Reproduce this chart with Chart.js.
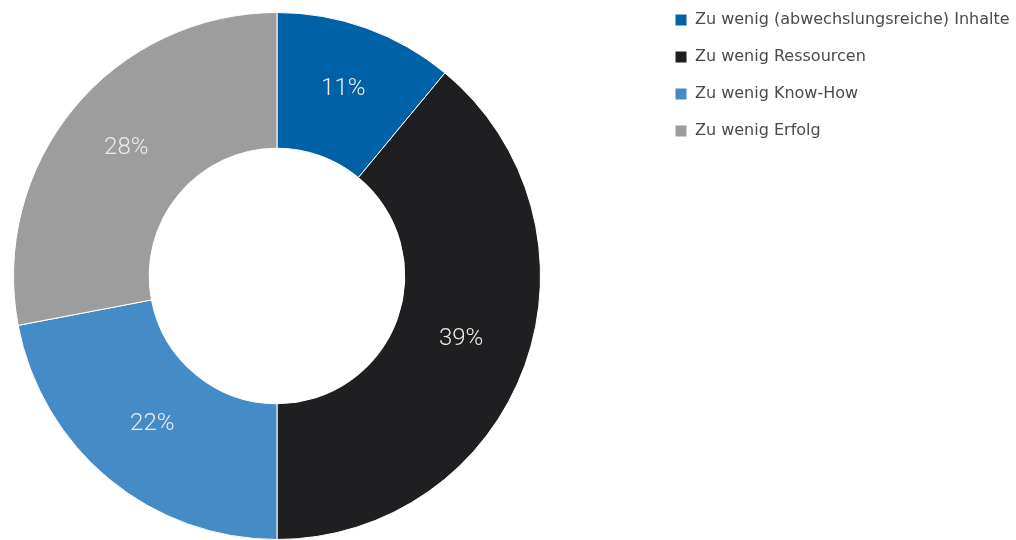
<!DOCTYPE html>
<html lang="de">
<head>
    <meta charset="UTF-8">
    <title>Gründe Doughnut</title>
    <script src="https://cdn.jsdelivr.net/npm/chart.js"></script>
    <style>
        html, body { margin: 0; padding: 0; background: #fff; }
        .chart-container { position: relative; width: 1016px; height: 540px; }
    </style>
</head>
<body>
<div class="chart-container">
    <canvas id="chartReasons"></canvas>
</div>

<script>
    const categories = [
        "Zu wenig (abwechslungsreiche) Inhalte",
        "Zu wenig Ressourcen",
        "Zu wenig Know-How",
        "Zu wenig Erfolg"
    ];
    const shares = [11, 39, 22, 28];
    const sliceColors = ["#0062a6", "#1f1f21", "#458bc5", "#9d9d9d"];

    // draws the percent text in the middle of each slice
    const sliceLabels = {
        id: "sliceLabels",
        afterDatasetsDraw(chart) {
            const ctx = chart.ctx;
            const meta = chart.getDatasetMeta(0);
            ctx.save();
            ctx.font = "300 24px Roboto, 'Liberation Sans', sans-serif";
            ctx.fillStyle = "#ebebeb";
            ctx.textAlign = "center";
            ctx.textBaseline = "middle";
            meta.data.forEach((arc, i) => {
                const p = arc.tooltipPosition();
                ctx.fillText(shares[i] + "%", p.x, p.y - 3);
            });
            ctx.restore();
        }
    };

    // wide legend box so the doughnut sits in the left 554px,
    // then slide the legend items over to the right
    const legendPlace = {
        id: "legendPlace",
        beforeLayout(chart) {
            const lg = chart.legend;
            if (lg && !lg._wide) {
                const fit = lg.fit.bind(lg);
                lg.fit = function () {
                    fit();
                    this.width = 462;
                };
                lg._wide = true;
            }
        },
        afterLayout(chart) {
            chart.legend.left += 100;
            chart.legend.right += 100;
            chart.legend.top -= 21;
            chart.legend.bottom -= 21;
        }
    };

    new Chart(document.getElementById("chartReasons"), {
        type: "doughnut",
        data: {
            labels: categories,
            datasets: [{
                data: shares,
                backgroundColor: sliceColors,
                borderColor: "#ffffff",
                borderWidth: 1
            }]
        },
        options: {
            responsive: true,
            maintainAspectRatio: false,
            animation: false,
            cutout: "48.5%",
            layout: { padding: { top: 12 } },
            plugins: {
                tooltip: { enabled: false },
                legend: {
                    position: "right",
                    align: "start",
                    onClick: null,
                    labels: {
                        boxWidth: 12,
                        boxHeight: 12,
                        padding: 21,
                        color: "#4a4a4a",
                        font: { family: "'DejaVu Sans', sans-serif", size: 16 }
                    }
                }
            }
        },
        plugins: [sliceLabels, legendPlace]
    });
</script>
</body>
</html>
